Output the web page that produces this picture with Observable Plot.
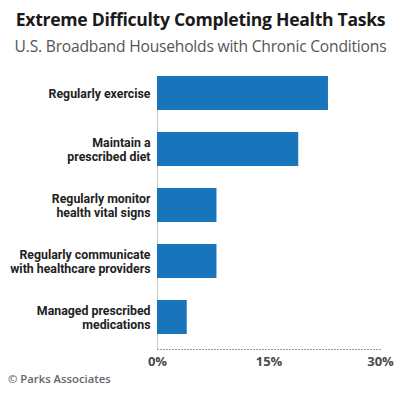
<!DOCTYPE html>
<html>
<head>
<meta charset="utf-8">
<script src="https://cdn.jsdelivr.net/npm/d3@7"></script>
<script src="https://cdn.jsdelivr.net/npm/@observablehq/plot@0.6"></script>
<style>
  html, body { margin: 0; padding: 0; background: #fff; }
  body { width: 401px; height: 398px; position: relative; overflow: hidden; font-family: "Open Sans", sans-serif; }
  #title { position: absolute; left: 0; width: 401px; top: 7px; text-align: center; font-weight: 700; font-size: 17.6px; color: #1a1a1a; letter-spacing: -0.3px; white-space: nowrap; }
  #subtitle { position: absolute; left: 0; width: 401px; top: 35px; text-align: center; font-size: 15.6px; color: #555; letter-spacing: -0.2px; white-space: nowrap; }
  #chart { position: absolute; left: 0; top: 60px; }
  #caption { position: absolute; left: 8px; top: 371px; font-size: 11.3px; color: #666; font-weight: 600; }
</style>
</head>
<body>
<div id="title">Extreme Difficulty Completing Health Tasks</div>
<div id="subtitle">U.S. Broadband Households with Chronic Conditions</div>
<div id="chart"></div>
<div id="caption">© Parks Associates</div>
<script>
const categories = [
  "Regularly exercise",
  "Maintain a\nprescribed diet",
  "Regularly monitor\nhealth vital signs",
  "Regularly communicate\nwith healthcare providers",
  "Managed prescribed\nmedications"
];
const values = [23, 19, 8, 8, 4];
const xTicks = [0, 15, 30];

const data = categories.map((c, i) => ({task: c, value: values[i]}));

const plot = Plot.plot({
  width: 401,
  height: 318,
  marginTop: 16,
  marginBottom: 29,
  marginLeft: 157,
  marginRight: 21,
  style: {fontFamily: "'Open Sans', sans-serif", background: "transparent"},
  x: {domain: [0, 30], ticks: xTicks},
  y: {domain: categories, range: [15.7, 275.3], paddingInner: 0.39, paddingOuter: 0, axis: null},
  marks: [
    Plot.frame({anchor: "bottom", stroke: "#999", strokeDasharray: "1,2"}),
    Plot.ruleX([0], {stroke: "#ccc", strokeWidth: 1}),
    Plot.barX(data, {x: "value", y: "task", fill: "#1874bb"}),
    Plot.text(data, {x: 0, y: "task", text: "task", textAnchor: "end", dx: -7, lineHeight: 1.12,
      className: "catlabels",
      fontFamily: "Roboto, sans-serif", fontWeight: "bold", fontSize: 13, fill: "#222"}),
    Plot.axisX({ticks: xTicks, tickSize: 0, tickPadding: 7, tickFormat: d => d + "%", fontSize: 13, fontWeight: "bold", fill: "#4a4a4a", label: null})
  ]
});
// horizontally condense the category labels (reference uses a condensed face)
d3.select(plot).selectAll("g.catlabels text").each(function () {
  const t = this.getAttribute("transform") || "";
  this.setAttribute("transform", t + " scale(0.95,1)");
});
document.getElementById("chart").appendChild(plot);
</script>
</body>
</html>
